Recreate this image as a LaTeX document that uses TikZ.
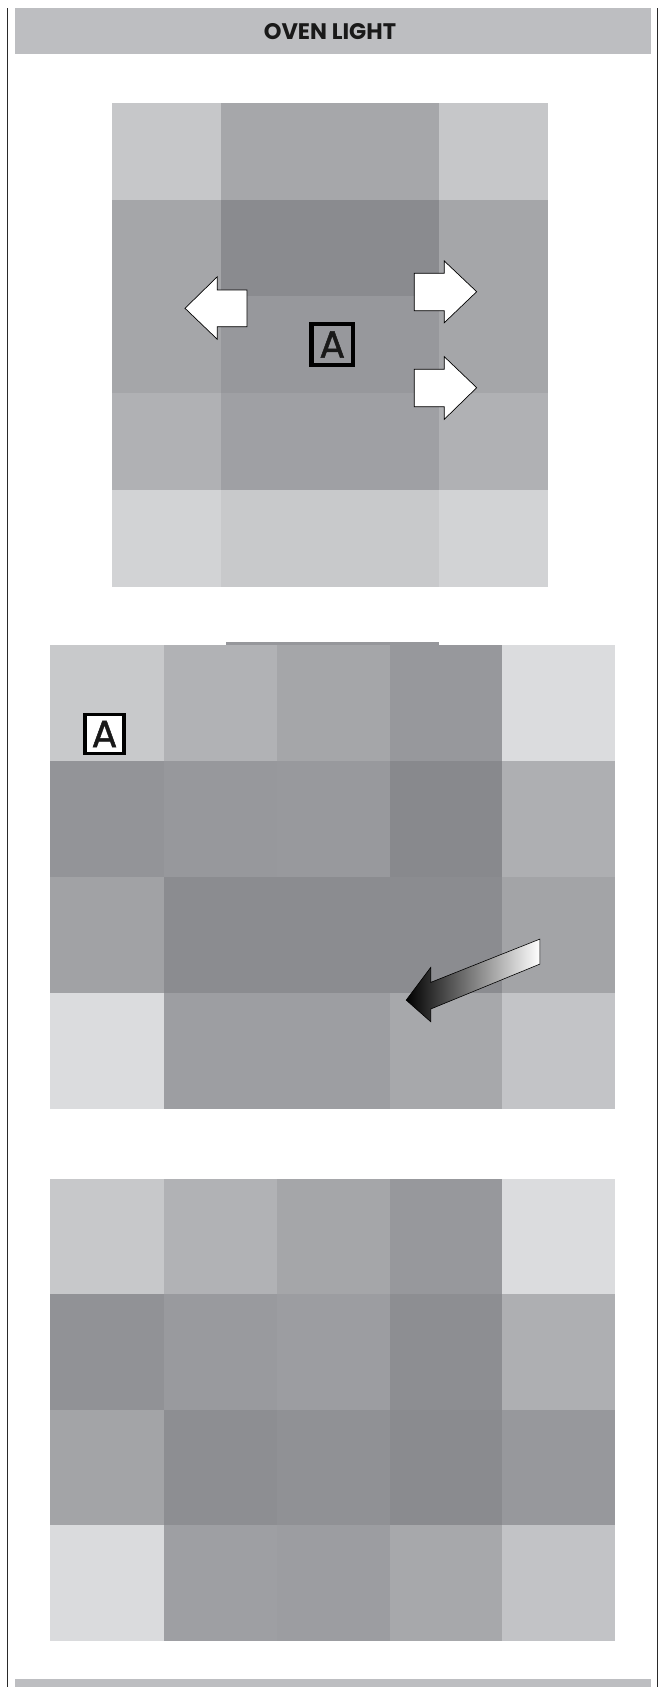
\documentclass[tikz,border=0pt]{standalone}
\usepackage{fontspec}
\setmainfont{Poppins}
\newfontfamily\labelfont[FakeBold=1.2]{Poppins}
\definecolor{hdr}{HTML}{BDBEC1}
\definecolor{frame}{HTML}{2A2A2A}
\tikzset{
  whitearrow/.style={fill=white,draw=black,line width=0.7pt,line join=miter},
  labelbox/.style={draw=black,inner sep=0pt,text=black!90,font=\labelfont\fontsize{38}{38}\selectfont},
  titletext/.style={font=\bfseries\fontsize{22.5}{22.5}\selectfont,text=black!90,inner sep=0pt}
}
\begin{document}
\begin{tikzpicture}[x=1pt,y=-1pt]
\useasboundingbox (0,0) rectangle (660,1687);
\fill[white] (0,0) rectangle (660,1687);
% frame lines
\draw[frame,line width=1.3pt] (7.6,8) -- (7.6,1687);
\draw[frame,line width=1.3pt] (657.4,8) -- (657.4,1687);
% header
\fill[hdr] (15,8) rectangle (651,53.7);
\node[titletext] (title) at (330,31.5) {OVEN LIGHT};
% bottom bar
\fill[hdr] (15,1679) rectangle (651,1687);

% ---------- panel 1 ----------
\foreach \ya/\yb/\ca/\cb/\cc in {
  102.7/199.5/C6C7C9/A6A7AA/C6C7C9,
  199.5/296.3/A5A6A9/8A8B8F/A5A6A9,
  296.3/393.1/A5A6A9/97989C/A5A6A9,
  393.1/489.9/B0B1B4/9FA0A4/B0B1B4,
  489.9/586.7/D2D3D5/C8C9CB/D2D3D5} {
  \definecolor{ka}{HTML}{\ca}\definecolor{kb}{HTML}{\cb}\definecolor{kc}{HTML}{\cc}
  \fill[ka] (112,\ya) rectangle (221,\yb);
  \fill[kb] (221,\ya) rectangle (439,\yb);
  \fill[kc] (439,\ya) rectangle (548,\yb);
}
\draw[whitearrow] (185,308.3) -- (217.3,276.7) -- (217.3,290) -- (247,290) -- (247,326.7) -- (217.3,326.7) -- (217.3,339.3) -- cycle;
\draw[whitearrow] (414.3,273.3) -- (444.3,273.3) -- (444.3,261) -- (476.7,291.7) -- (444.3,322.7) -- (444.3,310.7) -- (414.3,310.7) -- cycle;
\draw[whitearrow] (414.3,369.3) -- (444.3,369.3) -- (444.3,356.7) -- (476.7,387.7) -- (444.3,419.3) -- (444.3,406.7) -- (414.3,406.7) -- cycle;
\node[labelbox,line width=4.2pt,minimum size=41.5pt] (boxA1) at (332.3,344.5) {A};

% ---------- panel 2 ----------
\definecolor{strip}{HTML}{96979B}
\fill[strip] (226,641.8) rectangle (439,646);
\foreach \ya/\yb/\ca/\cb/\cc/\cd/\ce in {
  645/761/C8C9CB/B1B2B5/A5A6A9/97989C/DBDCDE,
  761/877/939498/97989C/98999D/88898D/AEAFB2,
  877/993/A1A2A5/8B8C90/8B8C90/8B8C90/A3A4A7,
  993/1109/DBDCDE/9D9EA2/9D9EA2/A7A8AB/C3C4C7} {
  \definecolor{ka}{HTML}{\ca}\definecolor{kb}{HTML}{\cb}\definecolor{kc}{HTML}{\cc}
  \definecolor{kd}{HTML}{\cd}\definecolor{ke}{HTML}{\ce}
  \fill[ka] (49.5,\ya) rectangle (163.5,\yb);
  \fill[kb] (163.5,\ya) rectangle (276.5,\yb);
  \fill[kc] (276.5,\ya) rectangle (389.5,\yb);
  \fill[kd] (389.5,\ya) rectangle (502,\yb);
  \fill[ke] (502,\ya) rectangle (615,\yb);
}
\node[labelbox,fill=white,line width=3.6pt,minimum size=38.8pt] (boxA2) at (104.5,734) {A};
\shade[left color=black,right color=white,draw=black,line width=0.6pt,line join=miter]
  (539.8,939.1) -- (430.7,982.4) -- (430.7,967.4) -- (406.2,1000.1) -- (430.7,1021.7) -- (430.7,1009) -- (539.8,964.1) -- cycle;

% ---------- panel 3 ----------
\foreach \ya/\yb/\ca/\cb/\cc/\cd/\ce in {
  1178.7/1294.2/C7C8CA/B1B2B5/A5A6A9/97989C/DBDCDE,
  1294.2/1409.7/919296/999A9E/9C9DA1/8D8E92/AEAFB2,
  1409.7/1525.2/A3A4A7/8D8E92/909195/8A8B8F/97989C,
  1525.2/1640.7/DADBDD/9E9FA3/9C9DA1/A7A8AB/C2C3C6} {
  \definecolor{ka}{HTML}{\ca}\definecolor{kb}{HTML}{\cb}\definecolor{kc}{HTML}{\cc}
  \definecolor{kd}{HTML}{\cd}\definecolor{ke}{HTML}{\ce}
  \fill[ka] (49.5,\ya) rectangle (163.5,\yb);
  \fill[kb] (163.5,\ya) rectangle (276.5,\yb);
  \fill[kc] (276.5,\ya) rectangle (389.5,\yb);
  \fill[kd] (389.5,\ya) rectangle (502,\yb);
  \fill[ke] (502,\ya) rectangle (615,\yb);
}
\end{tikzpicture}
\end{document}
